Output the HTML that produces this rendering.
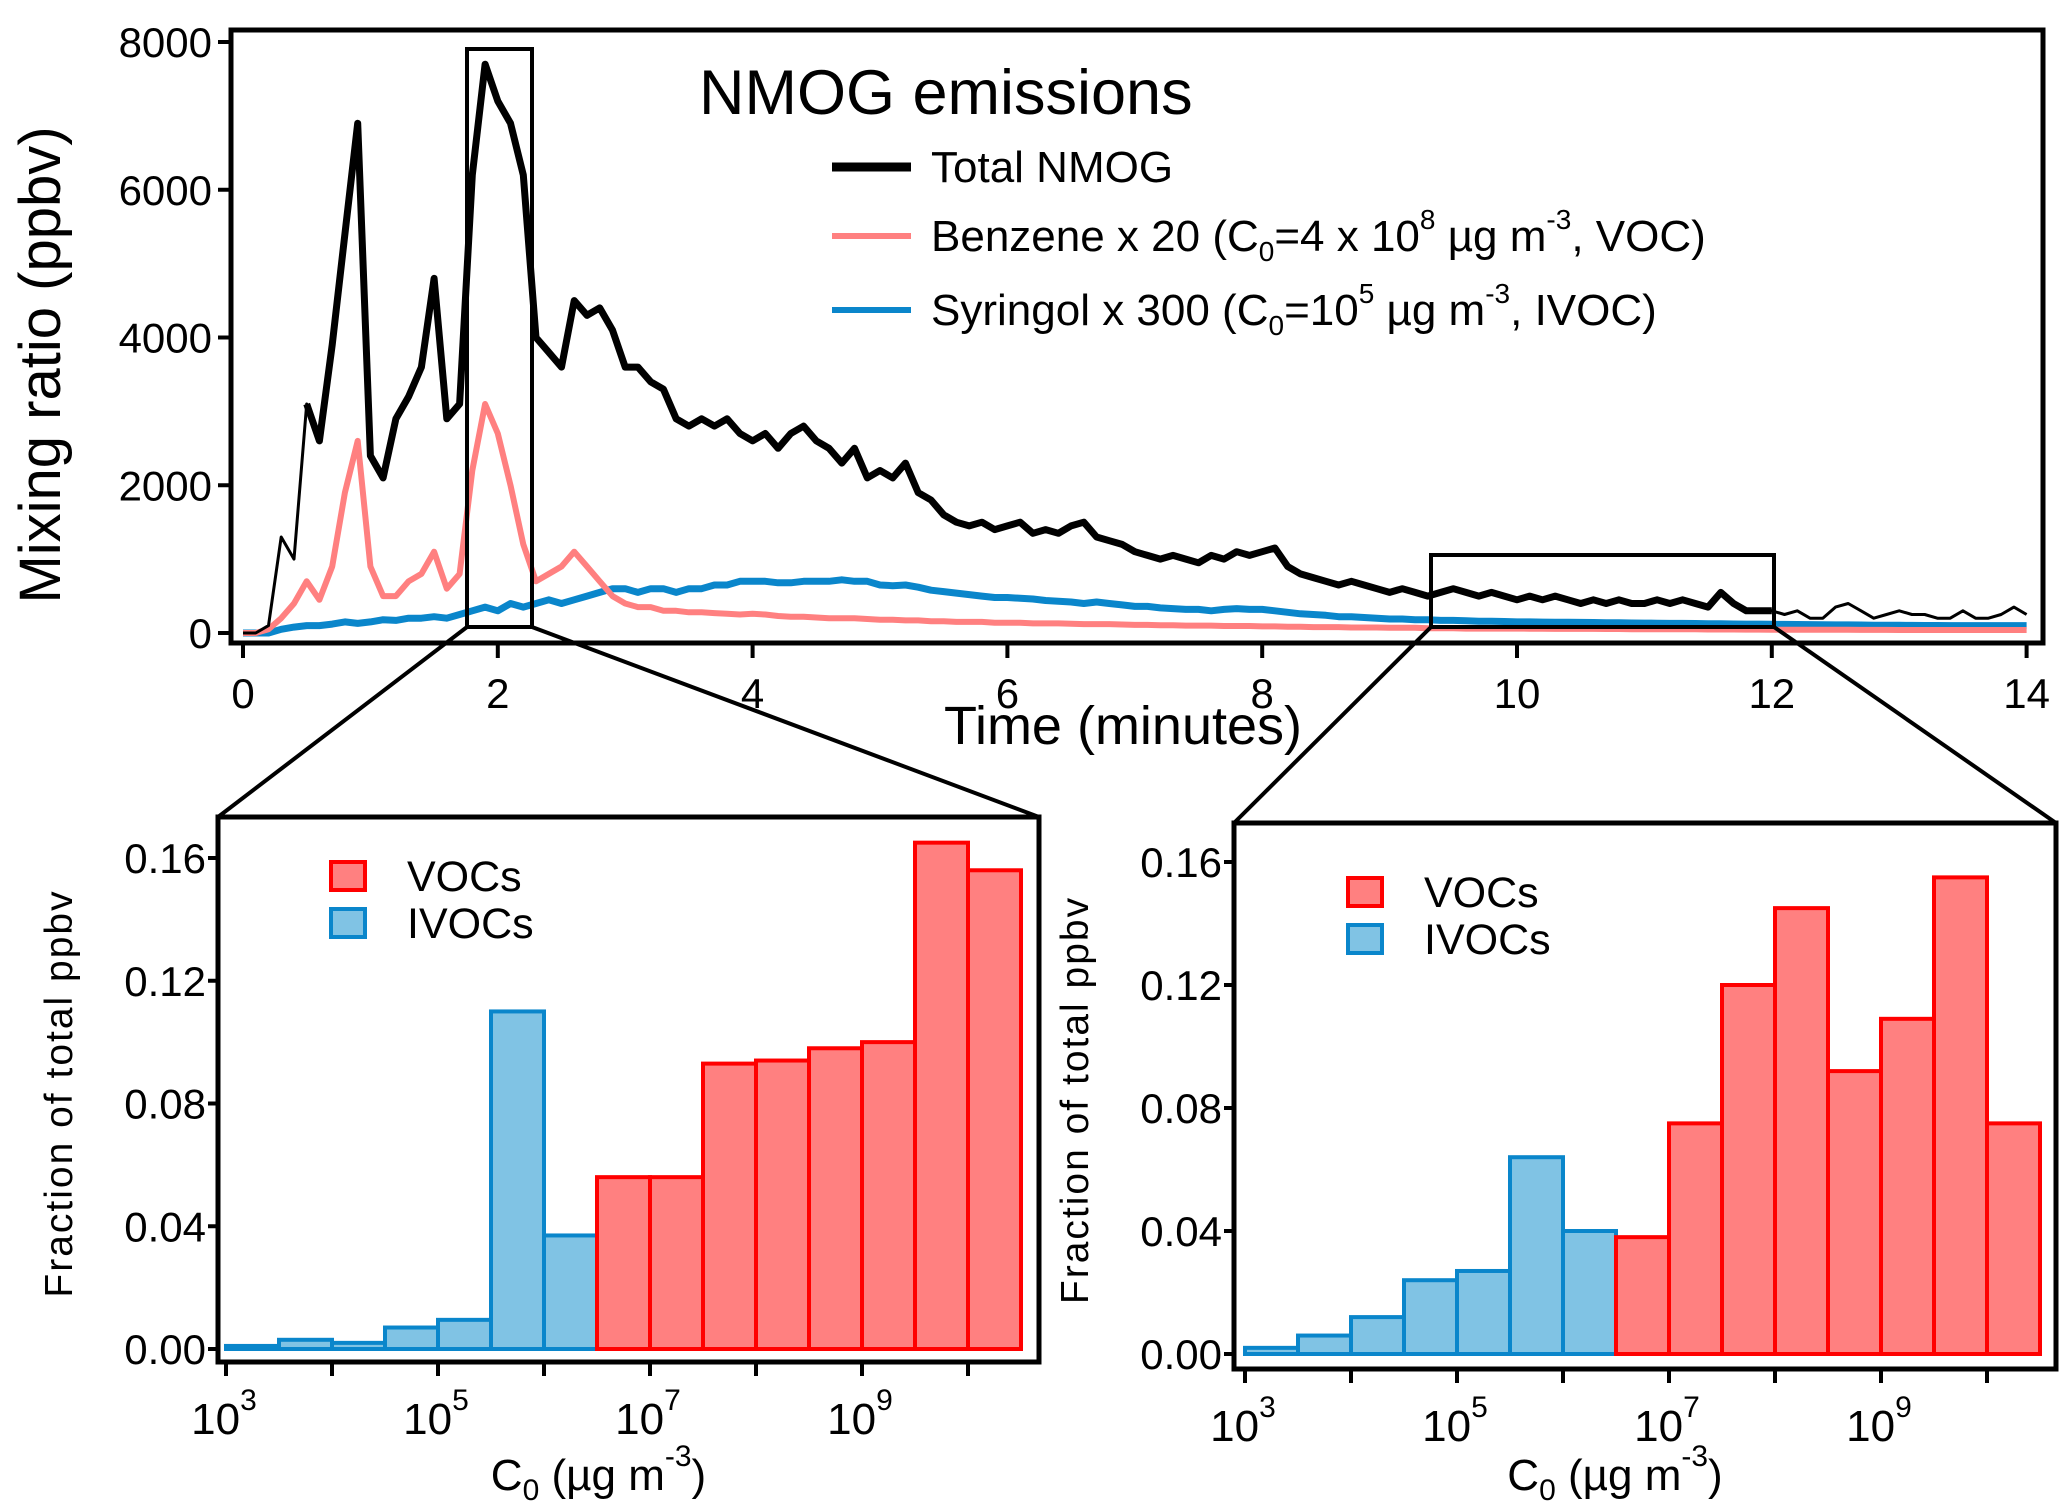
<!DOCTYPE html>
<html><head><meta charset="utf-8"><style>
html,body{margin:0;padding:0;background:#fff;}
svg{display:block;font-family:"Liberation Sans",Arial,sans-serif;}
</style></head><body>
<svg id="fig" width="2066" height="1509" viewBox="0 0 2066 1509" xmlns="http://www.w3.org/2000/svg">
<g id="topchart"></g>
<g id="bl"></g>
<g id="br"></g>
<g id="zoomlines"></g>
</svg>
<script>
// ---- top chart data (t = 0..14 step 0.1 minutes) ----
const totalNMOG = [0,0,100,1300,1000,3100,2600,3900,5400,6900,2400,2100,2900,3200,3600,4800,2900,3100,6200,7700,7200,6900,6200,4000,3800,3600,4500,4300,4400,4100,3600,3600,3400,3300,2900,2800,2900,2800,2900,2700,2600,2700,2500,2700,2800,2600,2500,2300,2500,2100,2200,2100,2300,1900,1800,1600,1500,1450,1500,1400,1450,1500,1350,1400,1350,1450,1500,1300,1250,1200,1100,1050,1000,1050,1000,950,1050,1000,1100,1050,1100,1150,900,800,750,700,650,700,650,600,550,600,550,500,550,600,550,500,550,500,450,500,450,500,450,400,450,400,450,400,400,450,400,450,400,350,550,400,300,300,300,250,300,200,200,350,400,300,200,250,300,250,250,200,200,300,200,200,250,350,250];
const benzene = [0,0,50,200,400,700,450,900,1900,2600,900,500,500,700,800,1100,600,800,2200,3100,2700,2000,1200,700,800,900,1100,900,700,500,400,350,350,300,300,280,280,270,260,250,260,250,230,220,220,210,200,200,200,190,180,180,170,170,160,160,150,150,150,140,140,140,130,130,130,125,120,120,120,115,110,110,105,105,100,100,100,95,95,95,90,90,85,85,80,80,80,75,75,75,70,70,70,65,65,65,60,60,60,60,60,58,58,56,56,55,55,54,54,52,52,50,50,50,50,48,48,48,46,46,45,45,45,44,44,43,43,42,42,42,41,41,40,40,40,40,40,40,40,40,40];
const syringol = [0,0,0,50,80,100,100,120,150,130,150,180,170,200,200,220,200,250,300,350,300,400,350,400,450,400,450,500,550,600,600,550,600,600,550,600,600,650,650,700,700,700,680,680,700,700,700,720,700,700,650,640,650,620,580,560,540,520,500,480,480,470,460,440,430,420,400,420,400,380,360,360,340,330,320,320,300,320,330,320,320,300,280,260,250,240,220,220,210,200,190,190,180,180,170,170,165,160,160,155,150,150,148,146,145,144,142,140,138,136,134,132,130,130,128,126,124,122,120,120,118,116,115,114,112,110,110,108,106,105,104,103,102,101,100,100,100,100,100,100,100];
const yTicksTop = [0,2000,4000,6000,8000];
const xTicksTop = [0,2,4,6,8,10,12,14];

// ---- histogram data ----
const binEdgesLog = [3,3.5,4,4.5,5,5.5,6,6.5,7,7.5,8,8.5,9,9.5,10,10.5];
const leftIVOC = [0.001,0.003,0.002,0.007,0.0095,0.110,0.037];
const leftVOC = [0.056,0.056,0.093,0.094,0.098,0.100,0.165,0.156];
const rightIVOC = [0.002,0.006,0.012,0.024,0.027,0.064,0.040];
const rightVOC = [0.038,0.075,0.120,0.145,0.092,0.109,0.155,0.075];
const yTicksHist = [0,0.04,0.08,0.12,0.16];
const yTickLabelsHist = ["0.00","0.04","0.08","0.12","0.16"];
const xTicksHistExp = [3,5,7,9];

const NS="http://www.w3.org/2000/svg";
function mk(parent,tag,attrs,text){const e=document.createElementNS(NS,tag);for(const k in attrs)e.setAttribute(k,attrs[k]);if(text!==undefined)e.textContent=text;parent.appendChild(e);return e;}

// ---------- TOP CHART ----------
const topG=document.getElementById('topchart');
const X0=243, PXM=127.4, Y0=633, PYV=(633-42)/8000;
const tx=t=>X0+t*PXM, ty=v=>Y0-v*PYV;
function pts(arr,i0,i1){let s=[];for(let i=i0;i<=Math.min(i1,arr.length-1);i++){if(arr[i]===undefined)continue;s.push(tx(i*0.1).toFixed(1)+','+ty(arr[i]).toFixed(1));}return s.join(' ');}
let e;
e=mk(topG,'polyline',{points:pts(syringol,0,140),fill:'none',stroke:'#0a86cb','stroke-width':7,'stroke-linejoin':'round'});


e=mk(topG,'polyline',{points:pts(benzene,0,140),fill:'none',stroke:'#ff8080','stroke-width':6,'stroke-linejoin':'round'});


e=mk(topG,'polyline',{points:pts(totalNMOG,0,140),fill:'none',stroke:'#000','stroke-width':3,'stroke-linejoin':'round'});


e=mk(topG,'polyline',{points:pts(totalNMOG,5,120),fill:'none',stroke:'#000','stroke-width':7,'stroke-linejoin':'round'});


e=mk(topG,'rect',{x:231,y:30,width:1812,height:613,fill:'none',stroke:'#000','stroke-width':5});


yTicksTop.forEach(v=>{
  e=mk(topG,'line',{x1:218,x2:231,y1:ty(v),y2:ty(v),stroke:'#000','stroke-width':4});
  
  
  e=mk(topG,'text',{x:212,y:ty(v)+15,'font-size':42,'text-anchor':'end'},String(v));
  
  
});
xTicksTop.forEach(v=>{
  e=mk(topG,'line',{x1:tx(v),x2:tx(v),y1:643,y2:658,stroke:'#000','stroke-width':4});
  
  
  e=mk(topG,'text',{x:tx(v),y:708,'font-size':42,'text-anchor':'middle'},String(v));
  
  
});
e=mk(topG,'text',{x:0,y:0,'font-size':58,'text-anchor':'middle',transform:'translate(60,365) rotate(-90)'},'Mixing ratio (ppbv)');


e=mk(topG,'text',{x:1123,y:744,'font-size':54,'text-anchor':'middle'},'Time (minutes)');


e=mk(topG,'text',{x:699,y:114,'font-size':63},'NMOG emissions');


// legend
const leg=[["#000",9,167],["#ff8080",6,236],["#0a86cb",6,310]];
leg.forEach(l=>{
  e=mk(topG,'line',{x1:832,x2:911,y1:l[2],y2:l[2],stroke:l[0],'stroke-width':l[1]});
  
  
});
e=mk(topG,'text',{x:931,y:182,'font-size':44},'Total NMOG');


e=mk(topG,'text',{x:931,y:251,'font-size':44});
e.innerHTML='Benzene x 20 (C<tspan font-size="28" dy="10">0</tspan><tspan dy="-10">=4 x 10</tspan><tspan font-size="28" dy="-22">8</tspan><tspan dy="22"> µg m</tspan><tspan font-size="28" dy="-22">-3</tspan><tspan dy="22">, VOC)</tspan>';


e=mk(topG,'text',{x:931,y:325,'font-size':44});
e.innerHTML='Syringol x 300 (C<tspan font-size="28" dy="10">0</tspan><tspan dy="-10">=10</tspan><tspan font-size="28" dy="-22">5</tspan><tspan dy="22">  µg m</tspan><tspan font-size="28" dy="-22">-3</tspan><tspan dy="22">, IVOC)</tspan>';


// zoom boxes
e=mk(topG,'rect',{x:467,y:49,width:65,height:578,fill:'none',stroke:'#000','stroke-width':4});


e=mk(topG,'rect',{x:1431,y:555,width:343,height:72,fill:'none',stroke:'#000','stroke-width':4});


const zl=document.getElementById('zoomlines');
[[467,627,218,817],[532,627,1039,817],[1431,627,1234,823],[1774,627,2056,823]].forEach(c=>{
  e=mk(zl,'line',{x1:c[0],y1:c[1],x2:c[2],y2:c[3],stroke:'#000','stroke-width':4});
  
  
});

// ---------- HISTOGRAMS ----------
function hist(g,fx,fy,fw,fh,xDec3,pxDec,yZero,y016,ivoc,voc,legP,cx){
  const hx=l=>xDec3+(l-3)*pxDec, hy=v=>yZero-v*(yZero-y016)/0.16;
  const draw=(vals,offset,fill,stroke,nm)=>vals.forEach((v,i)=>{
    const a=binEdgesLog[i+offset],b=binEdgesLog[i+offset+1];
    const r=mk(g,'rect',{x:hx(a),y:hy(v),width:hx(b)-hx(a),height:Math.max(hy(0)-hy(v),1),fill:fill,stroke:stroke,'stroke-width':4});
    
    
  });
  draw(ivoc,0,'#80c3e4','#0a86cb','ivoc-bar');
  draw(voc,ivoc.length,'#ff8080','#ff0000','voc-bar');
  let r=mk(g,'rect',{x:fx,y:fy,width:fw,height:fh,fill:'none',stroke:'#000','stroke-width':5});
  
  
  yTicksHist.forEach((v,i)=>{
    r=mk(g,'line',{x1:fx-10,x2:fx,y1:hy(v),y2:hy(v),stroke:'#000','stroke-width':4});
    
    
    r=mk(g,'text',{x:fx-12,y:hy(v)+15,'font-size':42,'text-anchor':'end'},yTickLabelsHist[i]);
    
    
  });
  for(let k=3;k<=10;k++){
    r=mk(g,'line',{x1:hx(k),x2:hx(k),y1:fy+fh,y2:fy+fh+14,stroke:'#000','stroke-width':4});
    
    
  }
  xTicksHistExp.forEach(k=>{
    r=mk(g,'text',{x:hx(k)-2,y:fy+fh+72,'font-size':44,'text-anchor':'middle'});
    r.innerHTML='10<tspan font-size="30" dy="-24">'+k+'</tspan>';
    
    
  });
  r=mk(g,'text',{x:0,y:0,'font-size':39,'text-anchor':'middle','letter-spacing':'2',transform:'translate('+(cx)+','+(fy+fh/2+4)+') rotate(-90)'},'Fraction of total ppbv');
  
  
  r=mk(g,'text',{x:fx+fw/2-30,y:1490,'font-size':44,'text-anchor':'middle'});
  r.innerHTML='C<tspan font-size="30" dy="10">0</tspan><tspan dy="-10"> (µg m</tspan><tspan font-size="30" dy="-24">-3</tspan><tspan dy="24">)</tspan>';
  
  
  r=mk(g,'rect',{x:legP[0],y:legP[1],width:34,height:28,fill:'#ff8080',stroke:'#ff0000','stroke-width':4});
  
  
  r=mk(g,'rect',{x:legP[0],y:legP[1]+47,width:34,height:28,fill:'#80c3e4',stroke:'#0a86cb','stroke-width':4});
  
  
  r=mk(g,'text',{x:legP[0]+76,y:legP[1]+29,'font-size':43},'VOCs');
  
  
  r=mk(g,'text',{x:legP[0]+76,y:legP[1]+76,'font-size':43},'IVOCs');
  
  
}
hist(document.getElementById('bl'),218,817,821,545,226,106,1349,858,leftIVOC,leftVOC,[331,862],72);
hist(document.getElementById('br'),1234,823,822,546,1245,106,1354,862,rightIVOC,rightVOC,[1348,878],1088);
</script>
</body></html>
